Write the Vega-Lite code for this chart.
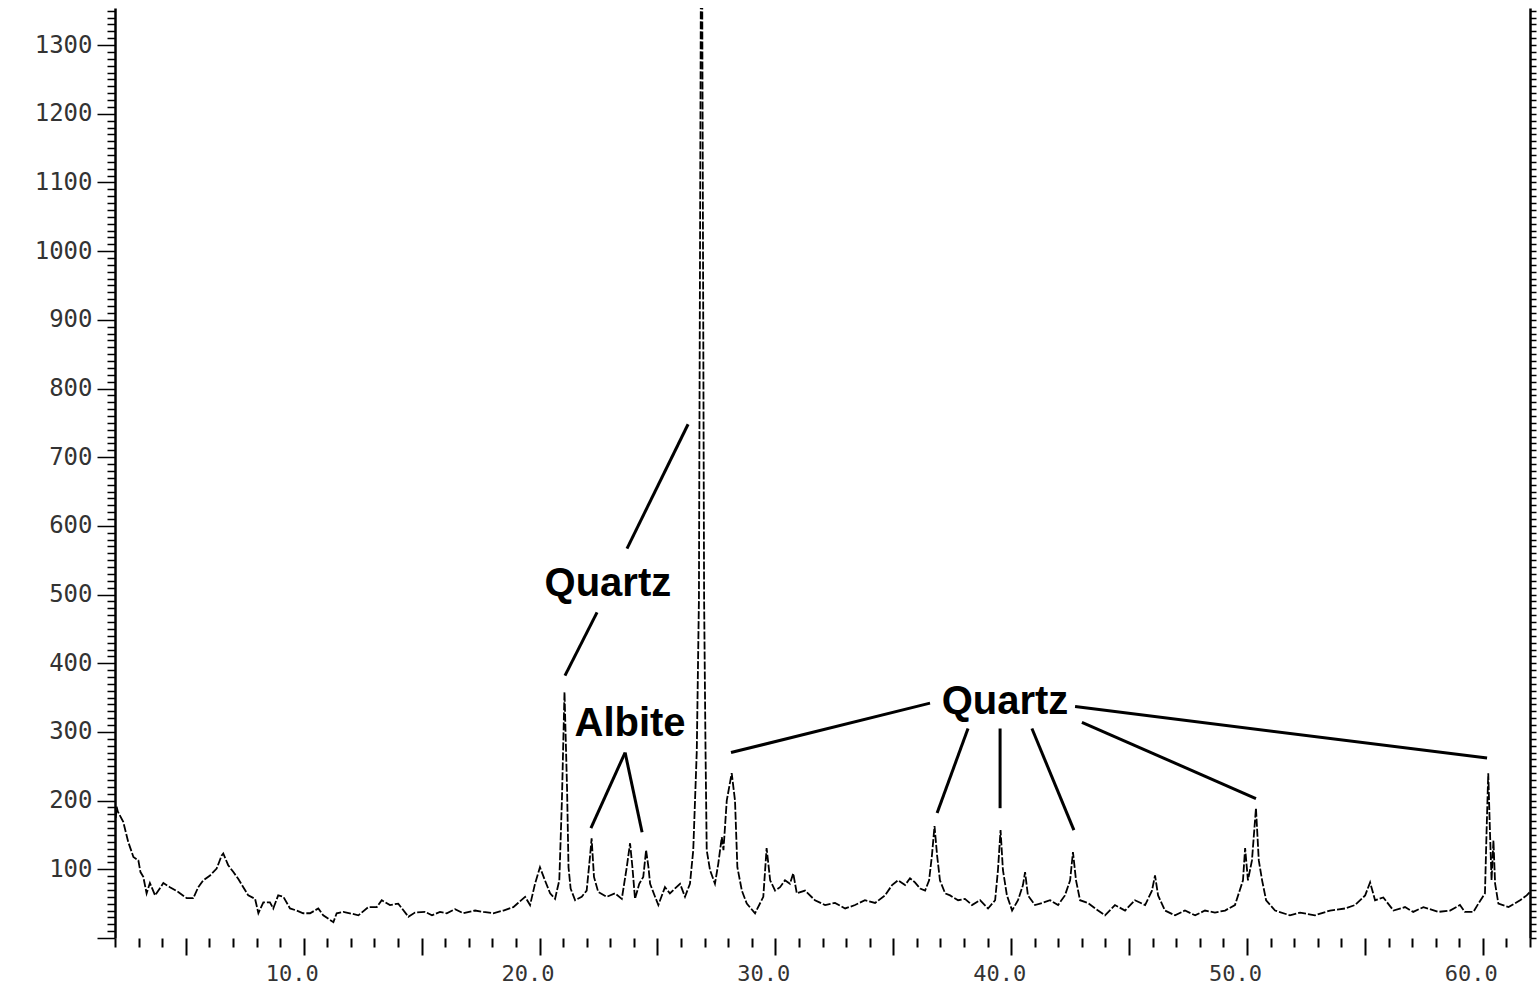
{
  "$schema": "https://vega.github.io/schema/vega-lite/v6.json",
  "width": 1415,
  "height": 930,
  "autosize": {"type": "none"},
  "padding": {"left": 115, "top": 8, "right": 9, "bottom": 53},
  "background": "white",
  "config": {"view": {"stroke": null}, "axis": {"grid": false}},
  "datasets": {
    "trace": [
      {"theta":2.03,"counts":175},{"theta":2.07,"counts":191},{"theta":2.12,"counts":184},{"theta":2.35,"counts":169},{"theta":2.56,"counts":140},{"theta":2.78,"counts":118},{"theta":2.99,"counts":113},{"theta":3.08,"counts":96},{"theta":3.20,"counts":89},{"theta":3.34,"counts":65},{"theta":3.48,"counts":80},{"theta":3.70,"counts":62},{"theta":4.05,"counts":80},{"theta":4.33,"counts":74},{"theta":4.68,"counts":67},{"theta":5.04,"counts":58},{"theta":5.32,"counts":58},{"theta":5.53,"counts":74},{"theta":5.74,"counts":84},{"theta":6.03,"counts":91},{"theta":6.31,"counts":101},{"theta":6.52,"counts":120},{"theta":6.59,"counts":123},{"theta":6.80,"counts":106},{"theta":7.02,"counts":96},{"theta":7.23,"counts":86},{"theta":7.44,"counts":74},{"theta":7.65,"counts":62},{"theta":7.94,"counts":57},{"theta":8.08,"counts":36},{"theta":8.29,"counts":52},{"theta":8.57,"counts":52},{"theta":8.71,"counts":43},{"theta":8.92,"counts":62},{"theta":9.14,"counts":60},{"theta":9.42,"counts":43},{"theta":9.70,"counts":40},{"theta":9.98,"counts":36},{"theta":10.27,"counts":36},{"theta":10.62,"counts":43},{"theta":10.83,"counts":33},{"theta":11.26,"counts":23},{"theta":11.40,"counts":36},{"theta":11.68,"counts":38},{"theta":11.96,"counts":36},{"theta":12.32,"counts":33},{"theta":12.74,"counts":45},{"theta":13.10,"counts":45},{"theta":13.31,"counts":55},{"theta":13.66,"counts":48},{"theta":14.01,"counts":50},{"theta":14.44,"counts":31},{"theta":14.72,"counts":37},{"theta":15.15,"counts":38},{"theta":15.44,"counts":33},{"theta":15.78,"counts":38},{"theta":16.07,"counts":36},{"theta":16.42,"counts":42},{"theta":16.77,"counts":36},{"theta":17.27,"counts":40},{"theta":17.62,"counts":38},{"theta":18.04,"counts":36},{"theta":18.47,"counts":40},{"theta":18.89,"counts":45},{"theta":19.09,"counts":51},{"theta":19.39,"counts":60},{"theta":19.60,"counts":48},{"theta":19.81,"counts":79},{"theta":20.02,"counts":103},{"theta":20.23,"counts":84},{"theta":20.45,"counts":65},{"theta":20.66,"counts":57},{"theta":20.84,"counts":84},{"theta":20.95,"counts":200},{"theta":21.06,"counts":358},{"theta":21.17,"counts":215},{"theta":21.23,"counts":103},{"theta":21.32,"counts":72},{"theta":21.51,"counts":55},{"theta":21.79,"counts":60},{"theta":22.00,"counts":69},{"theta":22.14,"counts":118},{"theta":22.21,"counts":145},{"theta":22.31,"counts":89},{"theta":22.49,"counts":67},{"theta":22.85,"counts":60},{"theta":23.20,"counts":65},{"theta":23.49,"counts":57},{"theta":23.70,"counts":103},{"theta":23.84,"counts":138},{"theta":23.94,"counts":103},{"theta":24.05,"counts":57},{"theta":24.23,"counts":79},{"theta":24.40,"counts":89},{"theta":24.52,"counts":128},{"theta":24.62,"counts":103},{"theta":24.69,"counts":79},{"theta":24.90,"counts":60},{"theta":25.04,"counts":48},{"theta":25.32,"counts":74},{"theta":25.53,"counts":65},{"theta":25.96,"counts":79},{"theta":26.17,"counts":60},{"theta":26.38,"counts":79},{"theta":26.52,"counts":128},{"theta":26.67,"counts":273},{"theta":26.76,"counts":492},{"theta":26.87,"counts":1700},{"theta":26.98,"counts":492},{"theta":27.04,"counts":273},{"theta":27.09,"counts":128},{"theta":27.23,"counts":99},{"theta":27.44,"counts":79},{"theta":27.58,"counts":108},{"theta":27.73,"counts":147},{"theta":27.80,"counts":128},{"theta":27.94,"counts":200},{"theta":28.15,"counts":240},{"theta":28.29,"counts":200},{"theta":28.39,"counts":103},{"theta":28.58,"counts":69},{"theta":28.79,"counts":50},{"theta":29.14,"counts":36},{"theta":29.49,"counts":60},{"theta":29.63,"counts":131},{"theta":29.78,"counts":84},{"theta":29.99,"counts":69},{"theta":30.20,"counts":74},{"theta":30.41,"counts":84},{"theta":30.62,"counts":79},{"theta":30.76,"counts":94},{"theta":30.91,"counts":65},{"theta":31.26,"counts":69},{"theta":31.68,"counts":55},{"theta":32.11,"counts":48},{"theta":32.53,"counts":51},{"theta":32.96,"counts":43},{"theta":33.38,"counts":48},{"theta":33.80,"counts":55},{"theta":34.23,"counts":51},{"theta":34.65,"counts":62},{"theta":34.95,"counts":77},{"theta":35.20,"counts":84},{"theta":35.50,"counts":77},{"theta":35.71,"counts":87},{"theta":35.92,"counts":81},{"theta":36.14,"counts":72},{"theta":36.35,"counts":69},{"theta":36.52,"counts":84},{"theta":36.64,"counts":120},{"theta":36.75,"counts":163},{"theta":36.86,"counts":120},{"theta":36.98,"counts":84},{"theta":37.20,"counts":65},{"theta":37.41,"counts":62},{"theta":37.75,"counts":55},{"theta":38.04,"counts":57},{"theta":38.34,"counts":48},{"theta":38.68,"counts":55},{"theta":39.02,"counts":43},{"theta":39.32,"counts":55},{"theta":39.44,"counts":99},{"theta":39.55,"counts":157},{"theta":39.65,"counts":99},{"theta":39.82,"counts":62},{"theta":40.04,"counts":40},{"theta":40.29,"counts":55},{"theta":40.50,"counts":77},{"theta":40.59,"counts":96},{"theta":40.71,"counts":62},{"theta":41.01,"counts":48},{"theta":41.31,"counts":51},{"theta":41.65,"counts":55},{"theta":41.99,"counts":48},{"theta":42.28,"counts":62},{"theta":42.50,"counts":84},{"theta":42.62,"counts":125},{"theta":42.75,"counts":84},{"theta":42.92,"counts":55},{"theta":43.26,"counts":51},{"theta":43.56,"counts":43},{"theta":43.98,"counts":33},{"theta":44.40,"counts":48},{"theta":44.83,"counts":40},{"theta":45.25,"counts":55},{"theta":45.68,"counts":48},{"theta":45.97,"counts":69},{"theta":46.10,"counts":91},{"theta":46.23,"counts":62},{"theta":46.52,"counts":40},{"theta":46.95,"counts":33},{"theta":47.37,"counts":40},{"theta":47.80,"counts":33},{"theta":48.22,"counts":40},{"theta":48.64,"counts":37},{"theta":49.07,"counts":40},{"theta":49.49,"counts":48},{"theta":49.83,"counts":84},{"theta":49.92,"counts":131},{"theta":50.04,"counts":84},{"theta":50.21,"counts":113},{"theta":50.38,"counts":189},{"theta":50.50,"counts":113},{"theta":50.64,"counts":84},{"theta":50.81,"counts":55},{"theta":51.19,"counts":40},{"theta":51.82,"counts":33},{"theta":52.25,"counts":37},{"theta":52.88,"counts":33},{"theta":53.52,"counts":40},{"theta":54.16,"counts":43},{"theta":54.58,"counts":48},{"theta":55.01,"counts":62},{"theta":55.22,"counts":81},{"theta":55.43,"counts":55},{"theta":55.78,"counts":59},{"theta":56.21,"counts":40},{"theta":56.70,"counts":45},{"theta":57.05,"counts":38},{"theta":57.48,"counts":45},{"theta":58.11,"counts":38},{"theta":58.61,"counts":40},{"theta":59.03,"counts":48},{"theta":59.24,"counts":38},{"theta":59.60,"counts":38},{"theta":59.81,"counts":50},{"theta":60.09,"counts":65},{"theta":60.16,"counts":157},{"theta":60.23,"counts":240},{"theta":60.30,"counts":157},{"theta":60.37,"counts":84},{"theta":60.45,"counts":142},{"theta":60.52,"counts":79},{"theta":60.66,"counts":50},{"theta":61.09,"counts":45},{"theta":61.58,"counts":55},{"theta":61.86,"counts":62},{"theta":62.00,"counts":67}
    ],
    "leaders": [
      {"x1":23.71,"y1":567,"x2":26.30,"y2":748},
      {"x1":22.44,"y1":474,"x2":21.08,"y2":382},
      {"x1":23.63,"y1":270,"x2":22.18,"y2":160},
      {"x1":23.63,"y1":270,"x2":24.35,"y2":154},
      {"x1":28.12,"y1":270,"x2":36.56,"y2":342},
      {"x1":38.17,"y1":305,"x2":36.86,"y2":182},
      {"x1":39.53,"y1":305,"x2":39.53,"y2":189},
      {"x1":40.88,"y1":305,"x2":42.66,"y2":157},
      {"x1":43.00,"y1":314,"x2":50.38,"y2":203},
      {"x1":42.71,"y1":337,"x2":60.18,"y2":262}
    ],
    "labels": [
      {"theta":22.90,"counts":515,"label":"Quartz"},
      {"theta":23.84,"counts":311,"label":"Albite"},
      {"theta":39.74,"counts":343,"label":"Quartz"}
    ]
  },
  "layer": [
    {
      "data": {"name": "trace"},
      "mark": {"type": "line", "color": "black", "strokeWidth": 1.8, "clip": true, "strokeDash": [8, 2]},
      "encoding": {
        "x": {
          "field": "theta", "type": "quantitative", "title": null,
          "scale": {"domain": [2, 62], "nice": false, "zero": false},
          "axis": {
            "orient": "bottom",
            "values": [2,3,4,5,6,7,8,9,10,11,12,13,14,15,16,17,18,19,20,21,22,23,24,25,26,27,28,29,30,31,32,33,34,35,36,37,38,39,40,41,42,43,44,45,46,47,48,49,50,51,52,53,54,55,56,57,58,59,60,61,62],
            "tickCount": 500,
            "domain": false,
            "ticks": true,
            "tickColor": "black",
            "tickWidth": 2,
            "tickSize": {"condition": {"test": "datum.value % 5 === 0", "value": 17}, "value": 9},
            "labelExpr": "datum.value % 10 === 0 ? format(datum.value, '.1f') : ''",
            "labelFont": "DejaVu Sans Mono",
            "labelFontSize": 22,
            "labelColor": "#333",
            "labelPadding": 8,
            "labelOffset": -12,
            "labelOverlap": false,
            "labelFlush": false,
            "labelBound": false
          }
        },
        "y": {
          "field": "counts", "type": "quantitative", "title": null,
          "scale": {"domain": [0, 1354], "nice": false},
          "axis": {
            "orient": "left",
            "values": [0,10,20,30,40,50,60,70,80,90,100,110,120,130,140,150,160,170,180,190,200,210,220,230,240,250,260,270,280,290,300,310,320,330,340,350,360,370,380,390,400,410,420,430,440,450,460,470,480,490,500,510,520,530,540,550,560,570,580,590,600,610,620,630,640,650,660,670,680,690,700,710,720,730,740,750,760,770,780,790,800,810,820,830,840,850,860,870,880,890,900,910,920,930,940,950,960,970,980,990,1000,1010,1020,1030,1040,1050,1060,1070,1080,1090,1100,1110,1120,1130,1140,1150,1160,1170,1180,1190,1200,1210,1220,1230,1240,1250,1260,1270,1280,1290,1300,1310,1320,1330,1340,1350],
            "tickCount": 500,
            "domain": true,
            "domainColor": "black",
            "domainWidth": 2.5,
            "tickColor": "black",
            "tickWidth": 1.5,
            "tickSize": {"condition": {"test": "datum.value % 100 === 0", "value": 18}, "value": 8},
            "labelExpr": "datum.value % 100 === 0 && datum.value > 0 ? format(datum.value, 'd') : ''",
            "labelFont": "DejaVu Sans Mono",
            "labelFontSize": 24,
            "labelColor": "#333",
            "labelPadding": 5,
            "labelOverlap": false,
            "labelFlush": false,
            "labelBound": false
          }
        }
      }
    },
    {
      "data": {"name": "leaders"},
      "mark": {"type": "rule", "color": "black", "strokeWidth": 3},
      "encoding": {
        "x": {"field": "x1", "type": "quantitative", "title": null},
        "y": {"field": "y1", "type": "quantitative", "title": null, "axis": null},
        "x2": {"field": "x2"},
        "y2": {"field": "y2"}
      }
    },
    {
      "data": {"name": "labels"},
      "mark": {"type": "text", "font": "Liberation Sans", "fontWeight": "bold", "fontSize": 40, "color": "black", "align": "center", "baseline": "middle"},
      "encoding": {
        "x": {"field": "theta", "type": "quantitative", "title": null},
        "y": {"field": "counts", "type": "quantitative", "title": null, "axis": null},
        "text": {"field": "label"}
      }
    },
    {
      "data": {"name": "trace"},
      "mark": {"type": "line", "opacity": 0},
      "encoding": {
        "x": {"field": "theta", "type": "quantitative", "title": null},
        "y": {
          "field": "counts", "type": "quantitative", "title": null,
          "axis": {
            "orient": "right",
            "values": [0,10,20,30,40,50,60,70,80,90,100,110,120,130,140,150,160,170,180,190,200,210,220,230,240,250,260,270,280,290,300,310,320,330,340,350,360,370,380,390,400,410,420,430,440,450,460,470,480,490,500,510,520,530,540,550,560,570,580,590,600,610,620,630,640,650,660,670,680,690,700,710,720,730,740,750,760,770,780,790,800,810,820,830,840,850,860,870,880,890,900,910,920,930,940,950,960,970,980,990,1000,1010,1020,1030,1040,1050,1060,1070,1080,1090,1100,1110,1120,1130,1140,1150,1160,1170,1180,1190,1200,1210,1220,1230,1240,1250,1260,1270,1280,1290,1300,1310,1320,1330,1340,1350],
            "tickCount": 500,
            "labels": false,
            "domainColor": "black",
            "domainWidth": 2.5,
            "tickColor": "black",
            "tickWidth": 1.5,
            "tickSize": 6
          }
        }
      }
    }
  ],
  "resolve": {"axis": {"y": "independent"}}
}
